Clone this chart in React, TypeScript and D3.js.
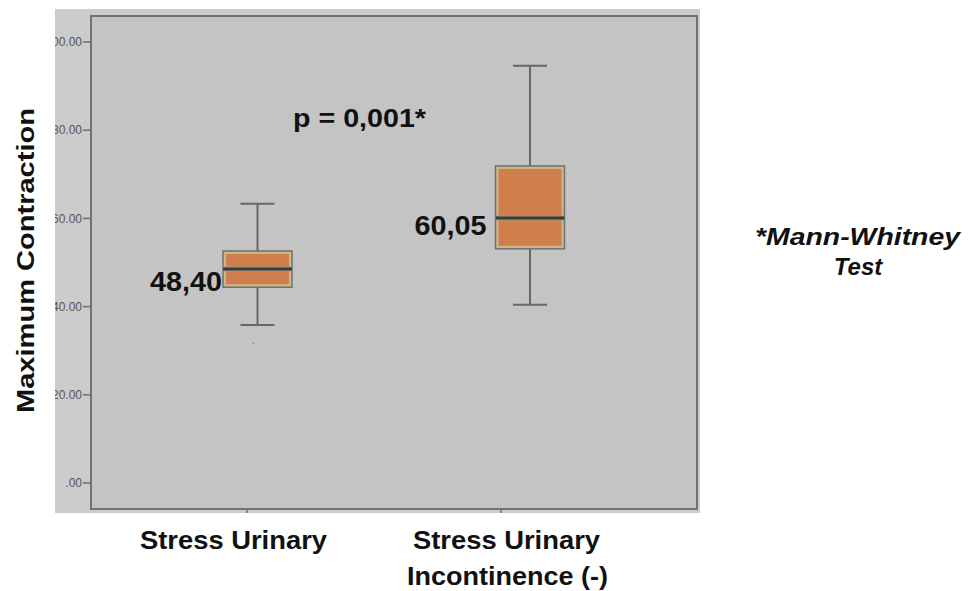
import React from "react";
import * as d3 from "d3";

// two groups, values
const groups = ["SUI (+)", "SUI (-)"];
const whiskerLow = [35.8, 40.4];
const q1 = [44.4, 53.1];
const median = [48.5, 60.1];
const q3 = [52.6, 71.9];
const whiskerHigh = [63.3, 94.6];
const outliers = [[31.7], []];
const medianLabels = ["48,40", "60,05"];
const yTicks = [0, 20, 40, 60, 80, 100];

const FONT = "'Liberation Sans', Arial, Helvetica, sans-serif";

export default function App() {
  const width = 970;
  const height = 591;

  // outer grey panel and inner plot frame
  const panel = { x: 55, y: 9, w: 645, h: 504 };
  const frame = { x: 91, y: 16, w: 606, h: 493 };

  const y = d3.scaleLinear().domain([-5.9, 105.9]).range([frame.y + frame.h, frame.y]);
  const x = d3.scalePoint().domain(groups).range([257.5, 530]);
  const xTick = d3.scalePoint().domain(groups).range([247, 501]);

  const boxW = 69;
  const capW = 34;
  const fmt = (d: number) => (d === 0 ? ".00" : d.toFixed(2));

  return (
    <svg width={width} height={height} style={{ position: "absolute", left: 0, top: 0, background: "#fff" }}>
      <defs>
        <clipPath id="panelClip">
          <rect x={panel.x} y={panel.y} width={panel.w} height={panel.h} />
        </clipPath>
      </defs>

      <rect x={panel.x} y={panel.y} width={panel.w} height={panel.h} fill="#cccccc" />
      <rect x={frame.x} y={frame.y} width={frame.w} height={frame.h} fill="#c4c4c4" stroke="#727272" strokeWidth={2} />

      {/* y axis */}
      <g clipPath="url(#panelClip)">
        {yTicks.map(t => (
          <g key={t}>
            <line x1={frame.x - 8} x2={frame.x} y1={y(t)} y2={y(t)} stroke="#707070" strokeWidth={1.5} />
            <text x={frame.x - 9} y={y(t)} dy="0.35em" textAnchor="end" fontFamily={FONT} fontSize={12} fill="#555">
              {fmt(t)}
            </text>
          </g>
        ))}
        {groups.map(g => (
          <line key={g} x1={xTick(g)} x2={xTick(g)} y1={frame.y + frame.h} y2={frame.y + frame.h + 4} stroke="#707070" strokeWidth={1.5} />
        ))}
      </g>

      {/* boxes */}
      {groups.map((g, i) => {
        const cx = x(g) as number;
        return (
          <g key={g}>
            <line x1={cx} x2={cx} y1={y(whiskerHigh[i])} y2={y(q3[i])} stroke="#666" strokeWidth={2} />
            <line x1={cx} x2={cx} y1={y(q1[i])} y2={y(whiskerLow[i])} stroke="#666" strokeWidth={2} />
            <line x1={cx - capW / 2} x2={cx + capW / 2} y1={y(whiskerHigh[i])} y2={y(whiskerHigh[i])} stroke="#666" strokeWidth={2} />
            <line x1={cx - capW / 2} x2={cx + capW / 2} y1={y(whiskerLow[i])} y2={y(whiskerLow[i])} stroke="#666" strokeWidth={2} />
            <rect x={cx - boxW / 2} y={y(q3[i])} width={boxW} height={y(q1[i]) - y(q3[i])} fill="#c9b88c" stroke="#707070" strokeWidth={1.5} />
            <rect x={cx - boxW / 2 + 3} y={y(q3[i]) + 3} width={boxW - 6} height={y(q1[i]) - y(q3[i]) - 6} fill="#d07f4c" />
            <line x1={cx - boxW / 2} x2={cx + boxW / 2} y1={y(median[i])} y2={y(median[i])} stroke="#9a9a80" strokeWidth={5} />
            <line x1={cx - boxW / 2} x2={cx + boxW / 2} y1={y(median[i])} y2={y(median[i])} stroke="#3a3a3a" strokeWidth={3} />
            {outliers[i].map((o, j) => (
              <circle key={j} cx={cx - 4} cy={y(o)} r={1} fill="#999" />
            ))}
            <text x={cx - boxW / 2 - (i === 0 ? 1 : 9)} y={y(median[i]) + (i === 0 ? 22 : 17)} textAnchor="end" fontFamily={FONT} fontWeight="bold" fontSize={28} textLength={72} lengthAdjust="spacingAndGlyphs" fill="#111">
              {medianLabels[i]}
            </text>
          </g>
        );
      })}

      <text x={293} y={127} fontFamily={FONT} fontWeight="bold" fontSize={26} textLength={133} lengthAdjust="spacingAndGlyphs" fill="#111">
        p = 0,001*
      </text>

      {/* y title */}
      <text transform="translate(34,260.5) rotate(-90)" textAnchor="middle" fontFamily={FONT} fontWeight="bold" fontSize={23} textLength={305} lengthAdjust="spacingAndGlyphs" fill="#111">
        Maximum Contraction
      </text>

      {/* x labels */}
      <text x={233.5} y={549} textAnchor="middle" fontFamily={FONT} fontWeight="bold" fontSize={26} textLength={187} lengthAdjust="spacingAndGlyphs" fill="#111">
        Stress Urinary
      </text>
      <text x={506.5} y={549} textAnchor="middle" fontFamily={FONT} fontWeight="bold" fontSize={26} textLength={187} lengthAdjust="spacingAndGlyphs" fill="#111">
        Stress Urinary
      </text>
      <text x={507.5} y={585} textAnchor="middle" fontFamily={FONT} fontWeight="bold" fontSize={26} textLength={201} lengthAdjust="spacingAndGlyphs" fill="#111">
        Incontinence (-)
      </text>

      {/* test note */}
      <text x={857.5} y={245} textAnchor="middle" fontFamily={FONT} fontWeight="bold" fontStyle="italic" fontSize={24} textLength={205} lengthAdjust="spacingAndGlyphs" fill="#111">
        *Mann-Whitney
      </text>
      <text x={858} y={275} textAnchor="middle" fontFamily={FONT} fontWeight="bold" fontStyle="italic" fontSize={24} fill="#111">
        Test
      </text>
    </svg>
  );
}
